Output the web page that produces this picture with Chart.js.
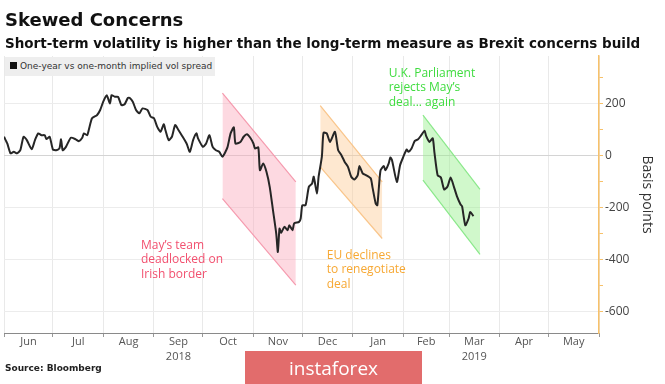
<!DOCTYPE html>
<html><head><meta charset="utf-8">
<script src="https://cdn.jsdelivr.net/npm/chart.js@4.4.1/dist/chart.umd.min.js"></script>
<style>
html,body{margin:0;padding:0;background:#fff;}
#wrap{position:relative;width:665px;height:384px;overflow:hidden;background:#fff;}
#c{position:absolute;left:0;top:0;}
#title{position:absolute;left:5px;top:9px;font:bold 18px "DejaVu Sans";color:#111;white-space:nowrap;}
#sub{position:absolute;left:5px;top:35px;font:bold 13.5px "DejaVu Sans";color:#111;white-space:nowrap;}
#legend{position:absolute;left:5px;top:57px;width:210px;height:19px;background:#eeeeee;font:9px "DejaVu Sans";color:#333;line-height:19px;white-space:nowrap;}
#legend .sq{display:inline-block;width:7px;height:7px;background:#111;margin:0 3px 0 5px;}
#source{position:absolute;left:5px;top:363px;font:bold 9px "DejaVu Sans";color:#222;white-space:nowrap;}
#wm{position:absolute;left:245px;top:351px;width:177px;height:40px;background:rgba(224,100,100,0.95);color:#fff;font:19px "Open Sans";line-height:34px;text-align:center;}
</style></head>
<body>
<div id="wrap">
<canvas id="c" width="665" height="384"></canvas>
<div id="title">Skewed Concerns</div>
<div id="sub">Short-term volatility is higher than the long-term measure as Brexit concerns build</div>
<div id="legend"><span class="sq"></span>One-year vs one-month implied vol spread</div>
<div id="source">Source: Bloomberg</div>
<div id="wm">instaforex</div>
</div>
<script>
// ---- data ----
const dates = [
'2018-06-01','2018-06-03','2018-06-05','2018-06-07','2018-06-09','2018-06-11','2018-06-13','2018-06-15','2018-06-18','2018-06-20',
'2018-06-22','2018-06-24','2018-06-26','2018-06-27','2018-06-29','2018-07-01','2018-07-03','2018-07-05','2018-07-06','2018-07-07',
'2018-07-09','2018-07-12','2018-07-15','2018-07-17','2018-07-19','2018-07-20','2018-07-22','2018-07-23','2018-07-25','2018-07-28',
'2018-07-30','2018-08-01','2018-08-03','2018-08-05','2018-08-06','2018-08-08','2018-08-10','2018-08-12','2018-08-14','2018-08-16',
'2018-08-17','2018-08-19','2018-08-21','2018-08-23','2018-08-25','2018-08-28','2018-08-30','2018-09-01','2018-09-03','2018-09-05',
'2018-09-07','2018-09-08','2018-09-10','2018-09-12','2018-09-14','2018-09-16','2018-09-18','2018-09-21','2018-09-23','2018-09-25',
'2018-09-27','2018-09-28','2018-10-01','2018-10-03','2018-10-05','2018-10-07','2018-10-09','2018-10-11','2018-10-13','2018-10-16',
'2018-10-18','2018-10-20','2018-10-21','2018-10-24','2018-10-26','2018-10-28','2018-10-30','2018-11-01','2018-11-02','2018-11-04',
'2018-11-05','2018-11-07','2018-11-09','2018-11-11','2018-11-13','2018-11-15','2018-11-16','2018-11-17','2018-11-18','2018-11-20',
'2018-11-22','2018-11-23','2018-11-25','2018-11-26','2018-11-29','2018-11-30','2018-12-01','2018-12-03','2018-12-05','2018-12-07',
'2018-12-08','2018-12-10','2018-12-11','2018-12-13','2018-12-14','2018-12-16','2018-12-18','2018-12-21','2018-12-23','2018-12-25',
'2018-12-27','2018-12-29','2018-12-31','2019-01-02','2019-01-04','2019-01-05','2019-01-07','2019-01-09','2019-01-12','2019-01-13',
'2019-01-15','2019-01-16','2019-01-17','2019-01-18','2019-01-20','2019-01-21','2019-01-23','2019-01-24','2019-01-25','2019-01-28',
'2019-01-30','2019-02-01','2019-02-03','2019-02-04','2019-02-06','2019-02-08','2019-02-10','2019-02-12','2019-02-14','2019-02-15',
'2019-02-17','2019-02-19','2019-02-20','2019-02-22','2019-02-24','2019-02-26','2019-02-28','2019-03-02','2019-03-04','2019-03-06',
'2019-03-08','2019-03-09','2019-03-11','2019-03-13','2019-03-14','2019-03-16'
];
const spread = [
72,46,8,14,8,20,72,59,24,59,
85,78,78,63,72,23,20,27,62,20,
33,68,62,55,68,85,78,98,143,155,
175,209,232,200,232,226,226,194,197,222,
222,207,175,162,181,175,149,143,110,91,
120,98,59,72,117,98,78,46,14,59,
85,66,33,46,78,33,20,14,-5,30,
85,108,46,52,72,82,69,46,27,31,
-57,-31,-63,-121,-211,-301,-372,-282,-298,-275,
-288,-269,-288,-262,-256,-243,-192,-192,-121,-108,
-82,-147,-82,-5,87,85,52,91,20,1,
-25,-44,-82,-93,-76,-41,-69,-76,-89,-121,
-185,-192,-121,-57,-41,-57,-31,-8,-18,-102,
-37,-5,23,14,27,56,62,78,95,74,
52,66,14,-76,-85,-131,-121,-85,-121,-160,
-188,-196,-269,-243,-218,-234
];
const monthStarts = ['2018-06-01','2018-07-01','2018-08-01','2018-09-01','2018-10-01','2018-11-01','2018-12-01',
  '2019-01-01','2019-02-01','2019-03-01','2019-04-01','2019-05-01','2019-06-01'];
const monthLabels = ['Jun','Jul','Aug','Sep','Oct','Nov','Dec','Jan','Feb','Mar','Apr','May'];
const yearLabels  = ['','','','2018','','','','','','2019','',''];
const yTickValues = [-600,-500,-400,-300,-200,-100,0,100,200,300];

// highlighted bands (start/end dates, upper edge values, lower edge values)
const bandStarts = ['2018-10-13','2018-12-12','2019-02-13'];
const bandEnds   = ['2018-11-27','2019-01-19','2019-03-20'];
const bandUpper  = [[240,-102],[192,-102],[155,-131]];
const bandLower  = [[-166,-500],[-44,-320],[-95,-381]];
const bandFill   = ['rgba(250,170,188,0.45)','rgba(252,205,150,0.45)','rgba(150,240,140,0.45)'];
const bandEdge   = ['#f59aae','#f9c58a','#8ae88a'];

// annotation notes
const noteText  = [['May\u2019s team','deadlocked on','Irish border'],['EU declines','to renegotiate','deal'],['U.K. Parliament','rejects May\u2019s','deal... again']];
const noteDates = ['2018-08-24','2018-12-16','2019-01-23'];
const noteValues = [-346,-384,317];
const noteColors = ['#f2506f','#f7a833','#3fdc3f'];

// ---- helpers ----
const ORIGIN = Date.UTC(2018,5,1);
function toDay(s){ const p = s.split('-').map(Number); return (Date.UTC(p[0],p[1]-1,p[2]) - ORIGIN)/86400000; }
const mDays = monthStarts.map(toDay);
const xTickValues = [];
for (let i=0;i<monthLabels.length;i++){ xTickValues.push(mDays[i]); xTickValues.push((mDays[i]+mDays[i+1])/2); }
xTickValues.push(mDays[mDays.length-1]);

const datasets = [{
  label:'One-year vs one-month implied vol spread',
  data: dates.map((d,i)=>({x:toDay(d), y:spread[i]})),
  borderColor:'#262626', borderWidth:2, pointRadius:0, tension:0.2, fill:false, order:0
}];
bandStarts.forEach((s,i)=>{
  const a = toDay(s), b = toDay(bandEnds[i]);
  datasets.push({data:[{x:a,y:bandUpper[i][0]},{x:b,y:bandUpper[i][1]}], borderColor:bandEdge[i], borderWidth:1.2, pointRadius:0, fill:false, order:2});
  datasets.push({data:[{x:a,y:bandLower[i][0]},{x:b,y:bandLower[i][1]}], borderColor:bandEdge[i], borderWidth:1.2, pointRadius:0, fill:'-1', backgroundColor:bandFill[i], order:2});
});

const notesPlugin = {
  id:'notes',
  afterDatasetsDraw(chart){
    const {ctx, scales:{x,y}} = chart;
    ctx.save();
    ctx.font = '12px "Open Sans"';
    ctx.textBaseline = 'middle';
    ctx.textAlign = 'left';
    noteText.forEach((lines,i)=>{
      const px = x.getPixelForValue(toDay(noteDates[i]));
      const py = y.getPixelForValue(noteValues[i]);
      ctx.fillStyle = noteColors[i];
      lines.forEach((t,j)=>ctx.fillText(t, px, py + j*14.5));
    });
    ctx.restore();
  }
};

new Chart(document.getElementById('c'), {
  type:'line',
  data:{datasets},
  plugins:[notesPlugin],
  options:{
    responsive:false, animation:false, devicePixelRatio:1,
    layout:{padding:{top:56,left:4,right:0,bottom:0}},
    plugins:{legend:{display:false}, tooltip:{enabled:false}},
    scales:{
      x:{
        type:'linear', min:mDays[0], max:mDays[mDays.length-1],
        afterBuildTicks: sc => { sc.ticks = xTickValues.map(v=>({value:v})); },
        afterFit: sc => { sc.height = 51; },
        ticks:{autoSkip:false, maxRotation:0, minRotation:0, padding:-2, color:'#555',
          font:{family:'Open Sans', size:11, lineHeight:1.3},
          callback:(v,i)=>{ if(i%2===0) return ''; const k=(i-1)/2; return yearLabels[k] ? [monthLabels[k], yearLabels[k]] : monthLabels[k]; }},
        grid:{color:c=>c.index%2===0?'#e9e9e9':'rgba(0,0,0,0)', tickColor:c=>c.index%2===0?'#999':'rgba(0,0,0,0)', tickLength:4},
        border:{color:'#8a8a8a', width:1}
      },
      y:{
        position:'right', min:-684, max:383,
        afterBuildTicks: sc => { sc.ticks = yTickValues.map(v=>({value:v})); },
        afterFit: sc => { sc.width = 66; },
        ticks:{autoSkip:false, padding:2, color:'#444', font:{family:'Open Sans', size:12},
          callback:v => v%200===0 ? String(v) : ''},
        grid:{color:c=>(c.tick && c.tick.value%200===0)?(c.tick.value===0?'#d4d4d4':'#ececec'):'rgba(0,0,0,0)', tickColor:'#f7c16a', tickLength:4},
        border:{color:'#f7c16a', width:1.5},
        title:{display:true, text:'Basis points', color:'#333', font:{family:'Open Sans', size:14}, padding:{top:10,bottom:0}}
      }
    }
  }
});
</script>
</body></html>
